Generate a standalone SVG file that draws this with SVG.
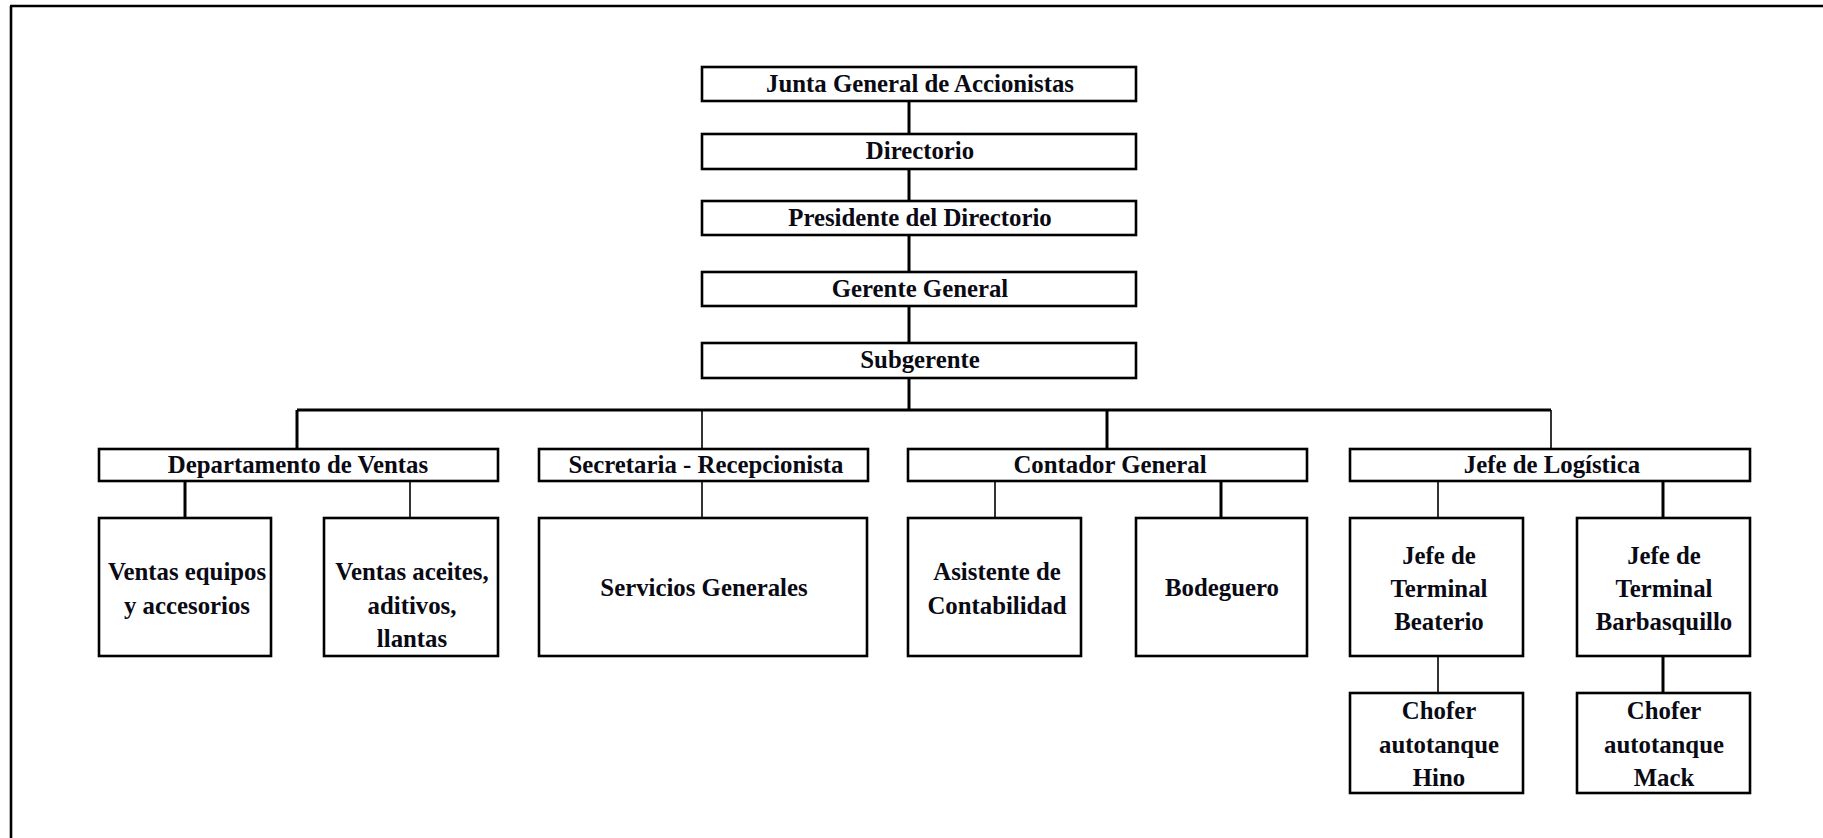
<svg xmlns="http://www.w3.org/2000/svg" width="1823" height="838" viewBox="0 0 1823 838">
  <style>
    .box { fill: #ffffff; stroke: #000000; stroke-width: 2.6; }
    .lbl { font-family: "Liberation Serif", "Times New Roman", serif; font-weight: bold; font-size: 24.8px; fill: #0a0a14; text-anchor: middle; }
    .thick { stroke: #000000; stroke-width: 3; fill: none; }
    .thin { stroke: #000000; stroke-width: 1.6; fill: none; }
    .frame { stroke: #000000; stroke-width: 2.6; fill: none; }
  </style>

  <rect x="0" y="0" width="1823" height="838" fill="#ffffff"/>

  <!-- page frame: top rule and left rule -->
  <path class="frame" d="M10 6 H1823 M11 6 V838"/>

  <!-- connectors -->
  <g id="connectors">
    <path class="thick" d="M909 101 V134 M909 169 V201 M909 235 V272 M909 306 V343 M909 378 V410"/>
    <path class="thick" d="M297 410 H1551"/>
    <path class="thick" d="M297 410 V449"/>
    <path class="thin" d="M702 410 V449"/>
    <path class="thick" d="M1107 410 V449"/>
    <path class="thin" d="M1551 410 V449"/>
    <path class="thick" d="M185 481 V518"/>
    <path class="thin" d="M410 481 V518"/>
    <path class="thin" d="M702 481 V518"/>
    <path class="thin" d="M995 481 V518"/>
    <path class="thick" d="M1221 481 V518"/>
    <path class="thin" d="M1438 481 V518"/>
    <path class="thick" d="M1663 481 V518"/>
    <path class="thin" d="M1438 656 V693"/>
    <path class="thick" d="M1663 656 V693"/>
  </g>

  <!-- top chain -->
  <g id="junta">
    <rect class="box" x="702" y="67" width="434" height="34"/>
    <text class="lbl" x="920" y="92">Junta General de Accionistas</text>
  </g>
  <g id="directorio">
    <rect class="box" x="702" y="134" width="434" height="35"/>
    <text class="lbl" x="920" y="159">Directorio</text>
  </g>
  <g id="presidente">
    <rect class="box" x="702" y="201" width="434" height="34"/>
    <text class="lbl" x="920" y="226">Presidente del Directorio</text>
  </g>
  <g id="gerente">
    <rect class="box" x="702" y="272" width="434" height="34"/>
    <text class="lbl" x="920" y="297">Gerente General</text>
  </g>
  <g id="subgerente">
    <rect class="box" x="702" y="343" width="434" height="35"/>
    <text class="lbl" x="920" y="368">Subgerente</text>
  </g>

  <!-- departments -->
  <g id="ventas">
    <rect class="box" x="99" y="449" width="399" height="32"/>
    <text class="lbl" x="298" y="473">Departamento de Ventas</text>
  </g>
  <g id="secretaria">
    <rect class="box" x="539" y="449" width="329" height="32"/>
    <text class="lbl" x="706" y="473">Secretaria - Recepcionista</text>
  </g>
  <g id="contador">
    <rect class="box" x="908" y="449" width="399" height="32"/>
    <text class="lbl" x="1110" y="473">Contador General</text>
  </g>
  <g id="logistica">
    <rect class="box" x="1350" y="449" width="400" height="32"/>
    <text class="lbl" x="1552" y="473">Jefe de Logística</text>
  </g>

  <!-- third level -->
  <g id="ventas-equipos">
    <rect class="box" x="99" y="518" width="172" height="138"/>
    <text class="lbl" x="187" y="580">Ventas equipos</text>
    <text class="lbl" x="187" y="614">y accesorios</text>
  </g>
  <g id="ventas-aceites">
    <rect class="box" x="324" y="518" width="174" height="138"/>
    <text class="lbl" x="412" y="580">Ventas aceites,</text>
    <text class="lbl" x="412" y="614">aditivos,</text>
    <text class="lbl" x="412" y="647">llantas</text>
  </g>
  <g id="servicios">
    <rect class="box" x="539" y="518" width="328" height="138"/>
    <text class="lbl" x="704" y="596">Servicios Generales</text>
  </g>
  <g id="asistente">
    <rect class="box" x="908" y="518" width="173" height="138"/>
    <text class="lbl" x="997" y="580">Asistente de</text>
    <text class="lbl" x="997" y="614">Contabilidad</text>
  </g>
  <g id="bodeguero">
    <rect class="box" x="1136" y="518" width="171" height="138"/>
    <text class="lbl" x="1222" y="596">Bodeguero</text>
  </g>
  <g id="terminal-beaterio">
    <rect class="box" x="1350" y="518" width="173" height="138"/>
    <text class="lbl" x="1439" y="564">Jefe de</text>
    <text class="lbl" x="1439" y="597">Terminal</text>
    <text class="lbl" x="1439" y="630">Beaterio</text>
  </g>
  <g id="terminal-barbasquillo">
    <rect class="box" x="1577" y="518" width="173" height="138"/>
    <text class="lbl" x="1664" y="564">Jefe de</text>
    <text class="lbl" x="1664" y="597">Terminal</text>
    <text class="lbl" x="1664" y="630">Barbasquillo</text>
  </g>

  <!-- drivers -->
  <g id="chofer-hino">
    <rect class="box" x="1350" y="693" width="173" height="100"/>
    <text class="lbl" x="1439" y="719">Chofer</text>
    <text class="lbl" x="1439" y="753">autotanque</text>
    <text class="lbl" x="1439" y="786">Hino</text>
  </g>
  <g id="chofer-mack">
    <rect class="box" x="1577" y="693" width="173" height="100"/>
    <text class="lbl" x="1664" y="719">Chofer</text>
    <text class="lbl" x="1664" y="753">autotanque</text>
    <text class="lbl" x="1664" y="786">Mack</text>
  </g>
</svg>
